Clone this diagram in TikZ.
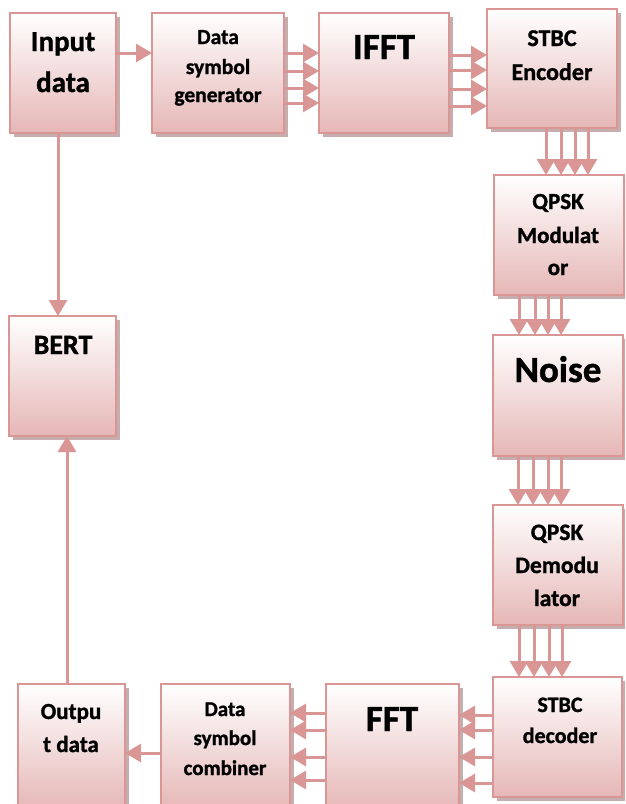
\documentclass[tikz,border=0pt]{standalone}
\usepackage{fontspec}
\setmainfont{Carlito}[BoldFeatures={FakeBold=1.2}]
\usetikzlibrary{arrows.meta,shadows}
\definecolor{edgec}{RGB}{217,150,148}
\definecolor{botc}{RGB}{229,183,182}
\definecolor{shadc}{RGB}{175,140,140}
\newcommand\myfs[1]{\fontsize{#1}{#1}\selectfont\bfseries}
\tikzset{
  box/.style={draw=edgec, line width=2.7pt, top color=white, bottom color=botc,
    inner sep=0pt, outer sep=0pt, anchor=north west,
    drop shadow={shadow xshift=4pt, shadow yshift=-4pt, fill=shadc, opacity=0.7}},
  txt/.style={anchor=base, inner sep=0pt, text=black},
  arr/.style={draw=edgec, line width=3pt, -{Triangle[length=16pt,width=18pt]}}
}
\begin{document}
\begin{tikzpicture}[x=1pt,y=-1pt]
\useasboundingbox (0,0) rectangle (625,804);
\clip (0,0) rectangle (625,804);
\fill[white] (0,0) rectangle (625,804);
% boxes
\node[box, minimum width=106pt, minimum height=120pt] (in) at (10,13) {};
\node[box, minimum width=132pt, minimum height=120pt] (dsg) at (152,13) {};
\node[box, minimum width=130pt, minimum height=120pt] (ifft) at (319,13) {};
\node[box, minimum width=130pt, minimum height=119pt] (enc) at (487,9) {};
\node[box, minimum width=130pt, minimum height=120pt] (mod) at (494,175) {};
\node[box, minimum width=130pt, minimum height=121pt] (noise) at (493,335) {};
\node[box, minimum width=130pt, minimum height=120pt] (demod) at (493,505) {};
\node[box, minimum width=129pt, minimum height=120pt] (dec) at (493,677) {};
\node[box, minimum width=133pt, minimum height=126pt] (fft) at (326,684) {};
\node[box, minimum width=129pt, minimum height=126pt] (comb) at (161,684) {};
\node[box, minimum width=107pt, minimum height=126pt] (out) at (18,684) {};
\node[box, minimum width=107pt, minimum height=120pt] (bert) at (9,316) {};
% texts
\node[txt, font=\myfs{29}] (inA) at (63,51) {Input};
\node[txt, font=\myfs{29}] (inB) at (63,92) {data};
\node[txt, font=\myfs{21.5}] (dsgA) at (218,44) {Data};
\node[txt, font=\myfs{21.5}] (dsgB) at (218,74) {symbol};
\node[txt, font=\myfs{21.5}] (dsgC) at (218,102) {generator};
\node[txt, font=\myfs{37}] (ifftA) at (384,59) {IFFT};
\node[txt, font=\myfs{24}] (encA) at (552,46) {STBC};
\node[txt, font=\myfs{24}] (encB) at (552,80) {Encoder};
\node[txt, font=\myfs{23}] (modA) at (558,209) {QPSK};
\node[txt, font=\myfs{23}] (modB) at (558,243) {Modulat};
\node[txt, font=\myfs{23}] (modC) at (558,275) {or};
\node[txt, font=\myfs{37}] (noiseA) at (558,382) {Noise};
\node[txt, font=\myfs{23.5}] (demodA) at (557,540) {QPSK};
\node[txt, font=\myfs{23.5}] (demodB) at (557,573) {Demodu};
\node[txt, font=\myfs{23.5}] (demodC) at (557,606) {lator};
\node[txt, font=\myfs{28}] (bertA) at (63,354) {BERT};
\node[txt, font=\myfs{23}] (outA) at (71,719) {Outpu};
\node[txt, font=\myfs{23}] (outB) at (71,752) {t data};
\node[txt, font=\myfs{21}] (combA) at (225,716) {Data};
\node[txt, font=\myfs{21}] (combB) at (225,745) {symbol};
\node[txt, font=\myfs{21}] (combC) at (225,775) {combiner};
\node[txt, font=\myfs{37}] (fftA) at (392,731) {FFT};
\node[txt, font=\myfs{22}] (decA) at (560,712) {STBC};
\node[txt, font=\myfs{22}] (decB) at (560,743) {decoder};
% arrows
\draw[arr] (in.east |- 0,53) -- (dsg.west |- 0,53);
\foreach \y in {53,71,88,103} \draw[arr] (dsg.east |- 0,\y) -- (ifft.west |- 0,\y);
\foreach \y in {55,70,89,106} \draw[arr] (ifft.east |- 0,\y) -- (enc.west |- 0,\y);
\foreach \x in {546,561,575,588} \draw[arr] (enc.south -| \x,0) -- (mod.north -| \x,0);
\foreach \x in {519,535,548,561} \draw[arr] (mod.south -| \x,0) -- (noise.north -| \x,0);
\foreach \x in {518,533,548,561} \draw[arr] (noise.south -| \x,0) -- (demod.north -| \x,0);
\foreach \x in {519,534,549,562} \draw[arr] (demod.south -| \x,0) -- (dec.north -| \x,0);
\foreach \y in {715,730,757,783} \draw[arr] (dec.west |- 0,\y) -- (fft.east |- 0,\y);
\foreach \y in {713,730,757,780} \draw[arr] (fft.west |- 0,\y) -- (comb.east |- 0,\y);
\draw[arr] (comb.west |- 0,753) -- (out.east |- 0,753);
\draw[arr] (in.south -| 58,0) -- (bert.north -| 58,0);
\draw[arr] (out.north -| 67,0) -- (bert.south -| 67,0);
\end{tikzpicture}
\end{document}
